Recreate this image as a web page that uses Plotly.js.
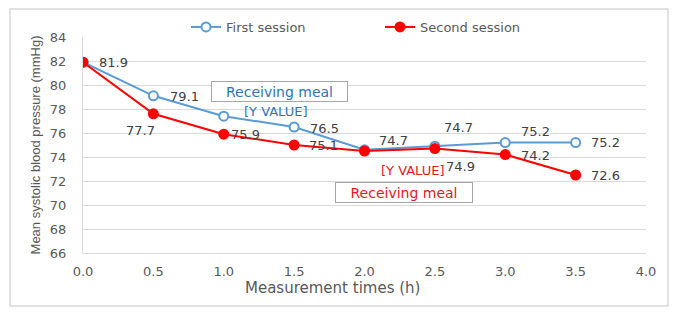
<!DOCTYPE html>
<html>
<head>
<meta charset="utf-8">
<script src="https://cdn.plot.ly/plotly-3.0.1.min.js"></script>
<style>html,body{margin:0;padding:0;background:#fff;} #chart{width:681px;height:315px;}</style>
</head>
<body>
<div id="chart"></div>
<script>
// ---- data ----
const times = [0, 0.5, 1.0, 1.5, 2.0, 2.5, 3.0, 3.5];
const firstSession = [81.9, 79.1, 77.4, 76.5, 74.6, 74.9, 75.2, 75.2];
const secondSession = [81.9, 77.6, 75.9, 75.0, 74.5, 74.7, 74.2, 72.5];
const firstLabels = ["", "79.1", "[Y VALUE]", "76.5", "74.7", "74.7", "75.2", "75.2"];
const secondLabels = ["81.9", "77.7", "75.9", "75.1", "[Y VALUE]", "74.9", "74.2", "72.6"];
const seriesNames = ["First session", "Second session"];
const boxText = "Receiving meal";
const xTitle = "Measurement times (h)";
const yTitle = "Mean systolic blood pressure (mmHg)";

// ---- styling / label offsets (pixels) ----
const BLUE = "#5B9BD5", BLUE_TXT = "#2E75B6", RED = "#FF0000", RED_TXT = "#E31A1C", GREY = "#595959", LBL = "#404040";
const FONT = "DejaVu Sans";
const firstOff = [[0,0],[31,-1],[52,5],[30,-1],[29,9],[24,19],[30,11],[30,0]];
const secondOff = [[30,0],[-13,-17],[22,0],[29,0],[48,-19],[26,-18],[30,-1],[30,0]];

const L = 83, R = 35, T = 37, B = 62, W = 681, H = 315;
const pw = W - L - R, ph = H - T - B;
const px = x => (x - L) / pw;
const py = y => (H - B - y) / ph;

const annotations = [];
function addLabels(labels, vals, off, color) {
  labels.forEach((t, i) => {
    if (!t) return;
    annotations.push({
      x: times[i], y: vals[i], xref: "x", yref: "y", text: t, showarrow: false,
      xshift: off[i][0], yshift: off[i][1], xanchor: "center", yanchor: "middle",
      font: {family: FONT, size: 13, color: t.startsWith("[") ? color : LBL}
    });
  });
}
addLabels(firstLabels, firstSession, firstOff, BLUE_TXT);
addLabels(secondLabels, secondSession, secondOff, RED_TXT);

// text boxes
annotations.push({
  xref: "paper", yref: "paper", x: px(279.5), y: py(91), text: boxText, showarrow: false,
  xanchor: "center", yanchor: "middle", width: 133, height: 17, bordercolor: "#A6A6A6", borderwidth: 1,
  borderpad: 1, bgcolor: "#fff", font: {family: FONT, size: 14, color: BLUE_TXT}
});
annotations.push({
  xref: "paper", yref: "paper", x: px(404), y: py(192), text: boxText, showarrow: false,
  xanchor: "center", yanchor: "middle", width: 134, height: 17, bordercolor: "#A6A6A6", borderwidth: 1,
  borderpad: 1, bgcolor: "#fff", font: {family: FONT, size: 14, color: RED_TXT}
});
// x axis title (placed like the original, centred on the chart area)
annotations.push({
  xref: "paper", yref: "paper", x: px(332), y: py(288), text: xTitle, showarrow: false,
  xanchor: "center", yanchor: "middle", font: {family: FONT, size: 15, color: GREY}
});

const traces = [
  {x: times, y: firstSession, name: seriesNames[0], type: "scatter", mode: "lines+markers",
   line: {color: BLUE, width: 2}, marker: {symbol: "circle", size: 9, color: "#fff", line: {color: BLUE, width: 2}}},
  {x: times, y: secondSession, name: seriesNames[1], type: "scatter", mode: "lines+markers",
   line: {color: RED, width: 2}, marker: {symbol: "circle", size: 11, color: RED}}
];

const layout = {
  width: W, height: H,
  margin: {l: L, r: R, t: T, b: B, pad: 0, autoexpand: false},
  paper_bgcolor: "#fff", plot_bgcolor: "#fff",
  font: {family: FONT, size: 13, color: GREY},
  showlegend: true,
  legend: {orientation: "h", x: px(186), y: py(27), xanchor: "left", yanchor: "middle",
           font: {family: FONT, size: 13, color: GREY}, entrywidth: 149, entrywidthmode: "pixels",
           bgcolor: "rgba(0,0,0,0)", traceorder: "normal"},
  xaxis: {range: [0, 4], dtick: 0.5, tick0: 0, tickformat: ".1f", showgrid: false, zeroline: false,
          showline: true, linecolor: "#D9D9D9", linewidth: 1, ticks: "outside", ticklen: 6, tickcolor: "rgba(0,0,0,0)",
          tickfont: {family: FONT, size: 13, color: GREY}},
  yaxis: {range: [66, 84], dtick: 2, tick0: 66, showgrid: true, gridcolor: "#D9D9D9", gridwidth: 1, zeroline: false,
          showline: true, linecolor: "#D9D9D9", linewidth: 1, ticks: "outside", ticklen: 13, tickcolor: "rgba(0,0,0,0)",
          tickfont: {family: FONT, size: 13, color: GREY},
          title: {text: yTitle, font: {family: "Liberation Sans Narrow, Liberation Sans", size: 13, color: GREY}, standoff: 6}},
  shapes: [
    {type: "rect", xref: "paper", yref: "paper", x0: px(10), x1: px(668), y0: py(306), y1: py(9),
     line: {color: "#D9D9D9", width: 1.5}, fillcolor: "rgba(0,0,0,0)", layer: "below"}
  ],
  annotations: annotations
};

Plotly.newPlot("chart", traces, layout, {displayModeBar: false, staticPlot: true});
</script>
</body>
</html>
